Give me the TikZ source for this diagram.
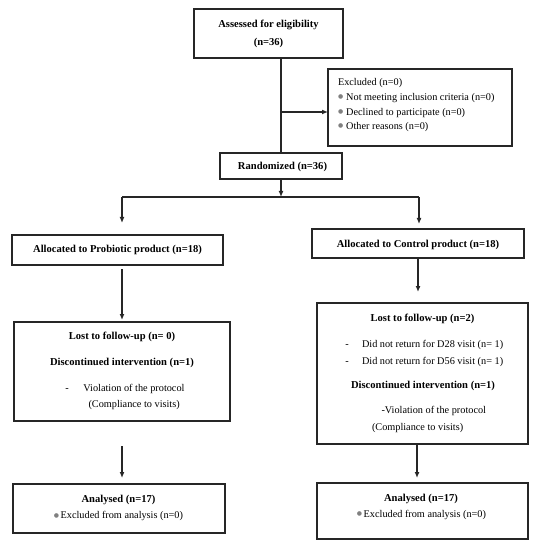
\documentclass[tikz,border=0pt]{standalone}
\usepackage{fontspec}
\setmainfont{Liberation Serif}
\newfontfamily\dejavu{DejaVu Sans}
\usetikzlibrary{arrows.meta}
\newcommand\gdot{\textcolor{black!50}{\raisebox{0.35ex}{\dejavu\fontsize{6}{6}\selectfont ●}}}
\newcommand\fsz{\fontsize{10.3}{12}\selectfont}
\newcommand\fszb{\fontsize{10.6}{12}\selectfont\bfseries}
\begin{document}
\begin{tikzpicture}[x=1bp,y=-1bp,
  every node/.style={font=\fsz, inner sep=0pt, outer sep=0pt},
  box/.style={draw=black!85, line width=1.3bp, rectangle},
  conn/.style={draw=black!85, line width=1.4bp},
  arr/.style={conn, -{Latex[length=6bp,width=5bp]}},
  bt/.style={font=\fszb, anchor=mid},
  rt/.style={font=\fsz, anchor=mid},
  lt/.style={font=\fsz, anchor=mid west}]
\useasboundingbox (0,0) rectangle (538,550);
% boxes
\node[box, minimum width=149bp, minimum height=49bp] (assess) at (268.5,33.5) {};
\node[box, minimum width=184bp, minimum height=77bp] (excl) at (420,107.5) {};
\node[box, minimum width=122bp, minimum height=26bp] (rand) at (281,166) {};
\node[box, minimum width=211bp, minimum height=30bp] (probL) at (117.5,250) {};
\node[box, minimum width=212bp, minimum height=29bp] (ctrlR) at (418,243.5) {};
\node[box, minimum width=216bp, minimum height=99bp] (lostL) at (122,371.5) {};
\node[box, minimum width=211bp, minimum height=141bp] (lostR) at (422.5,373.5) {};
\node[box, minimum width=212bp, minimum height=49bp] (anaL) at (119,508.5) {};
\node[box, minimum width=211bp, minimum height=56bp] (anaR) at (422.5,511) {};
% texts
\node[bt] (t1) at (268.5,25) {Assessed for eligibility};
\node[bt] (t2) at (268.5,43) {(n=36)};
\node[lt] (e0) at (338,83) {Excluded (n=0)};
\node[lt] (e1) at (338,98) {\gdot\hspace{3bp}Not meeting inclusion criteria (n=0)};
\node[lt] (e2) at (338,113) {\gdot\hspace{3bp}Declined to participate (n=0)};
\node[lt] (e3) at (338,127) {\gdot\hspace{3bp}Other reasons (n=0)};
\node[bt] (r1) at (282.5,167) {Randomized (n=36)};
\node[bt] (p1) at (117.5,250) {Allocated to Probiotic product (n=18)};
\node[bt] (c1) at (418,245) {Allocated to Control product (n=18)};
\node[bt] (l1) at (122,337) {Lost to follow-up (n= 0)};
\node[bt] (l2) at (122,363) {Discontinued intervention (n=1)};
\node[rt] (l3d) at (67,389.5) {-};
\node[lt] (l3) at (83.4,389.5) {Violation of the protocol};
\node[lt] (l4) at (88.5,405) {(Compliance to visits)};
\node[bt] (m1) at (422.5,319) {Lost to follow-up (n=2)};
\node[rt] (m2d) at (347,345) {-};
\node[lt] (m2) at (362,345) {Did not return for D28 visit (n= 1)};
\node[rt] (m3d) at (347,362) {-};
\node[lt] (m3) at (362,362) {Did not return for D56 visit (n= 1)};
\node[bt] (m4) at (423,386) {Discontinued intervention (n=1)};
\node[lt] (m5) at (381.5,411.5) {-Violation of the protocol};
\node[lt] (m6) at (372,428) {(Compliance to visits)};
\node[bt] (a1) at (118.5,500) {Analysed (n=17)};
\node[rt] (a2) at (118.5,516.5) {\gdot\hspace{1.5bp}Excluded from analysis (n=0)};
\node[bt] (b1) at (421,499.5) {Analysed (n=17)};
\node[rt] (b2) at (421.5,515) {\gdot\hspace{1.5bp}Excluded from analysis (n=0)};
% connectors
\coordinate (exarr) at (281,112);
\coordinate (split) at (281,197);
\coordinate (splitL) at (122,197);
\coordinate (splitR) at (419,197);
\coordinate (rx) at (417,444);
\draw[conn] (rand.north |- assess.south) -- (rand.north);
\draw[arr] (exarr) -- (exarr -| excl.west);
\draw[arr] (rand.south) -- (split);
\draw[conn] (splitL) -- (splitR);
\draw[arr, shorten >=12bp] (splitL) -- (splitL |- probL.north);
\draw[arr, shorten >=5bp] (splitR) -- (splitR |- ctrlR.north);
\draw[arr, shorten <=4bp, shorten >=2bp] (lostL.north |- probL.south) -- (lostL.north);
\draw[arr, shorten >=11bp] (ctrlR.south) -- (ctrlR.south |- lostR.north);
\draw[arr, shorten <=25bp, shorten >=6bp] (lostL.south) -- (lostL.south |- anaL.north);
\draw[arr, shorten >=5bp] (rx) -- (rx |- anaR.north);
\end{tikzpicture}
\end{document}
